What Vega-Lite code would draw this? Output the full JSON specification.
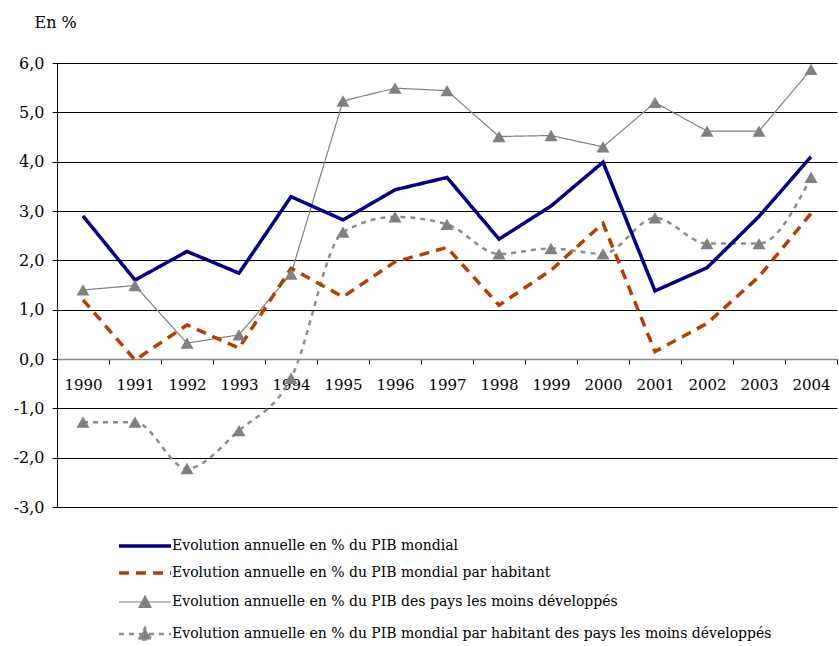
{
  "$schema": "https://vega.github.io/schema/vega-lite/v6.json",
  "width": 780,
  "height": 444,
  "autosize": {"type": "none"},
  "padding": {"left": 57, "top": 63, "right": 2, "bottom": 139},
  "background": "white",
  "config": {"view": {"stroke": null}, "font": "DejaVu Serif"},
  "data": {"values": [
    {"year": "1990", "s": "A", "value": 2.9}, {"year": "1990", "s": "B", "value": 1.2}, {"year": "1990", "s": "C", "value": 1.4}, {"year": "1990", "s": "D", "value": -1.28},
    {"year": "1991", "s": "A", "value": 1.6}, {"year": "1991", "s": "B", "value": -0.02}, {"year": "1991", "s": "C", "value": 1.49}, {"year": "1991", "s": "D", "value": -1.28},
    {"year": "1992", "s": "A", "value": 2.18}, {"year": "1992", "s": "B", "value": 0.69}, {"year": "1992", "s": "C", "value": 0.32}, {"year": "1992", "s": "D", "value": -2.22},
    {"year": "1993", "s": "A", "value": 1.74}, {"year": "1993", "s": "B", "value": 0.22}, {"year": "1993", "s": "C", "value": 0.49}, {"year": "1993", "s": "D", "value": -1.45},
    {"year": "1994", "s": "A", "value": 3.29}, {"year": "1994", "s": "B", "value": 1.84}, {"year": "1994", "s": "C", "value": 1.72}, {"year": "1994", "s": "D", "value": -0.39},
    {"year": "1995", "s": "A", "value": 2.82}, {"year": "1995", "s": "B", "value": 1.26}, {"year": "1995", "s": "C", "value": 5.23}, {"year": "1995", "s": "D", "value": 2.57},
    {"year": "1996", "s": "A", "value": 3.43}, {"year": "1996", "s": "B", "value": 1.97}, {"year": "1996", "s": "C", "value": 5.49}, {"year": "1996", "s": "D", "value": 2.88},
    {"year": "1997", "s": "A", "value": 3.68}, {"year": "1997", "s": "B", "value": 2.26}, {"year": "1997", "s": "C", "value": 5.44}, {"year": "1997", "s": "D", "value": 2.73},
    {"year": "1998", "s": "A", "value": 2.43}, {"year": "1998", "s": "B", "value": 1.09}, {"year": "1998", "s": "C", "value": 4.51}, {"year": "1998", "s": "D", "value": 2.13},
    {"year": "1999", "s": "A", "value": 3.1}, {"year": "1999", "s": "B", "value": 1.8}, {"year": "1999", "s": "C", "value": 4.53}, {"year": "1999", "s": "D", "value": 2.24},
    {"year": "2000", "s": "A", "value": 3.99}, {"year": "2000", "s": "B", "value": 2.75}, {"year": "2000", "s": "C", "value": 4.3}, {"year": "2000", "s": "D", "value": 2.13},
    {"year": "2001", "s": "A", "value": 1.38}, {"year": "2001", "s": "B", "value": 0.15}, {"year": "2001", "s": "C", "value": 5.2}, {"year": "2001", "s": "D", "value": 2.86},
    {"year": "2002", "s": "A", "value": 1.85}, {"year": "2002", "s": "B", "value": 0.72}, {"year": "2002", "s": "C", "value": 4.62}, {"year": "2002", "s": "D", "value": 2.34},
    {"year": "2003", "s": "A", "value": 2.89}, {"year": "2003", "s": "B", "value": 1.67}, {"year": "2003", "s": "C", "value": 4.62}, {"year": "2003", "s": "D", "value": 2.34},
    {"year": "2004", "s": "A", "value": 4.1}, {"year": "2004", "s": "B", "value": 2.95}, {"year": "2004", "s": "C", "value": 5.87}, {"year": "2004", "s": "D", "value": 3.68}
  ]},
  "encoding": {
    "x": {
      "field": "year", "type": "ordinal", "bandPosition": 0.5,
      "scale": {"type": "band", "paddingInner": 0, "paddingOuter": 0},
      "axis": {"title": null, "orient": "bottom", "offset": -148, "domainColor": "#888888", "domainWidth": 1.5, "tickColor": "#000000", "tickSize": 5, "tickBand": "extent", "labelFont": "DejaVu Serif", "labelFontSize": 15, "labelColor": "#000000", "labelPadding": 13, "labelAngle": 0, "grid": false}
    },
    "y": {
      "field": "value", "type": "quantitative",
      "scale": {"domain": [-3, 6], "nice": false, "zero": false},
      "axis": {"title": "En %", "titleFont": "DejaVu Serif", "titleAngle": 0, "titleAlign": "left", "titleBaseline": "middle", "titleX": -23, "titleY": -41, "titleFontSize": 16, "titleFontWeight": "normal", "titleColor": "#000000", "values": [-3, -2, -1, 0, 1, 2, 3, 4, 5, 6], "labelExpr": "replace(replace(format(datum.value, '.1f'), '.', ','), '\u2212', '-')", "labelFont": "DejaVu Serif", "labelFontSize": 16, "labelColor": "#000000", "labelPadding": 8, "domainColor": "#000000", "tickColor": "#000000", "tickSize": 5, "grid": true, "gridColor": "#000000", "gridOpacity": 1, "gridWidth": 1}
    },
    "color": {
      "field": "s", "type": "nominal",
      "scale": {"domain": ["A", "B", "C", "D"], "range": ["#000080", "#B33F00", "#808080", "#8C8C8C"]},
      "legend": {
        "orient": "none", "legendX": 63, "legendY": 476, "direction": "vertical", "title": null,
        "labelFont": "DejaVu Serif", "labelFontSize": 14, "labelColor": "#000000", "labelLimit": 800,
        "labelExpr": "datum.value == 'A' ? 'Evolution annuelle en % du PIB mondial' : datum.value == 'B' ? 'Evolution annuelle en % du PIB mondial par habitant' : datum.value == 'C' ? 'Evolution annuelle en % du PIB des pays les moins développés' : 'Evolution annuelle en % du PIB mondial par habitant des pays les moins développés'",
        "symbolSize": 100, "labelOffset": 38, "rowPadding": 13,
        "encode": {"symbols": {"update": {
          "shape": {"signal": "datum.value == 'C' || datum.value == 'D' ? 'M-1.6,0H8.8M2.4,1.1L3.6,-1.2L4.8,1.1Z' : 'M-1.6,0H8.8'"},
          "fill": {"signal": "datum.value == 'C' || datum.value == 'D' ? '#808080' : 'transparent'"},
          "strokeWidth": {"signal": "datum.value == 'C' ? 1.2 : datum.value == 'D' ? 2.5 : 3.5"}
        }}}
      }
    },
    "strokeDash": {
      "field": "s", "type": "nominal",
      "scale": {"domain": ["A", "B", "C", "D"], "range": [[1, 0], [10, 7], [1, 0], [5, 5]]}
    }
  },
  "layer": [
    {"transform": [{"filter": "datum.s == 'C'"}], "mark": {"type": "line", "strokeWidth": 1.2}},
    {"transform": [{"filter": "datum.s == 'D'"}], "mark": {"type": "line", "strokeWidth": 2.5, "interpolate": "monotone"}},
    {"transform": [{"filter": "datum.s == 'B'"}], "mark": {"type": "line", "strokeWidth": 3.5}},
    {"transform": [{"filter": "datum.s == 'A'"}], "mark": {"type": "line", "strokeWidth": 3.5}},
    {"transform": [{"filter": "datum.s == 'C' || datum.s == 'D'"}], "mark": {"type": "point", "shape": "triangle-up", "filled": true, "size": 170, "opacity": 1},
     "encoding": {"color": {"value": "#808080"}, "strokeDash": {"value": [1, 0]}}}
  ]
}
